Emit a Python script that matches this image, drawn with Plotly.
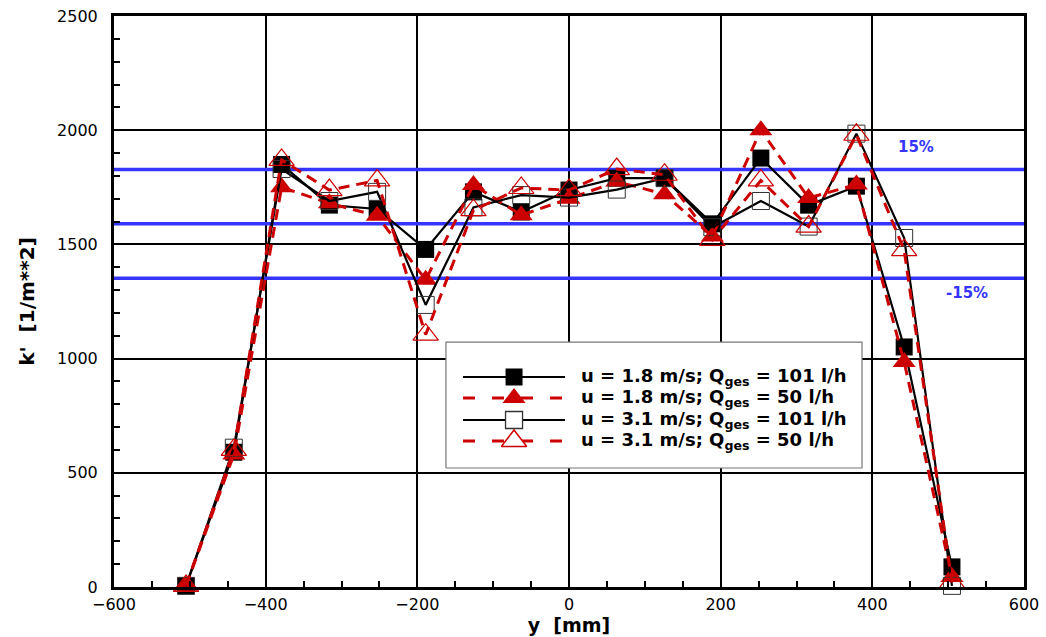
import plotly.graph_objects as go

# ---- data ----
y_mm = [-505, -442, -379, -316, -253, -189, -126, -63, 0, 63, 126, 189, 253, 316, 379, 442, 505]
k_u18_q101 = [5, 590, 1850, 1672, 1655, 1478, 1730, 1642, 1738, 1790, 1790, 1590, 1878, 1672, 1755, 1051, 88]
k_u18_q50 = [5, 580, 1750, 1680, 1625, 1345, 1760, 1628, 1700, 1775, 1720, 1535, 2000, 1703, 1762, 985, 44]
k_u31_q101 = [5, 610, 1830, 1690, 1730, 1235, 1662, 1716, 1705, 1740, 1790, 1575, 1690, 1578, 1985, 1528, 5]
k_u31_q50 = [5, 600, 1870, 1738, 1780, 1105, 1650, 1747, 1738, 1830, 1805, 1520, 1780, 1578, 1980, 1475, 20]

ref_levels = [1828, 1590, 1352]          # +15 %, mean, -15 %
band_labels = ["15%", "-15%"]
band_label_x = [458, 525]
band_label_y = [1928, 1288]

series_names = [
    "u = 1.8 m/s; Q<sub>ges</sub> = 101 l/h",
    "u = 1.8 m/s; Q<sub>ges</sub> = 50 l/h",
    "u = 3.1 m/s; Q<sub>ges</sub> = 101 l/h",
    "u = 3.1 m/s; Q<sub>ges</sub> = 50 l/h",
]
x_ticks = [-600, -400, -200, 0, 200, 400, 600]
y_ticks = [0, 500, 1000, 1500, 2000, 2500]

RED = "#cc0000"
BLUE = "#3535ff"
FONT = "DejaVu Sans"

styles = [
    dict(line=dict(color="black", width=2.2),
         marker=dict(symbol="square", size=17, color="black", line=dict(width=0))),
    dict(line=dict(color=RED, width=3, dash="11px,7px"),
         marker=dict(symbol="triangle-up", size=20, color=RED, line=dict(width=0))),
    dict(line=dict(color="black", width=2.2),
         marker=dict(symbol="square-open", size=17, color="#333333", line=dict(width=1))),
    dict(line=dict(color=RED, width=3, dash="11px,7px"),
         marker=dict(symbol="triangle-up-open", size=22, color=RED, line=dict(width=1.2))),
]
series_values = [k_u18_q101, k_u18_q50, k_u31_q101, k_u31_q50]

fig = go.Figure()

# reference band lines
for lvl in ref_levels:
    fig.add_trace(go.Scatter(x=[x_ticks[0], x_ticks[-1]], y=[lvl, lvl], mode="lines",
                             line=dict(color=BLUE, width=3.5), showlegend=False,
                             hoverinfo="skip"))

for name, vals, st in zip(series_names, series_values, styles):
    fig.add_trace(go.Scatter(x=y_mm, y=vals, mode="lines+markers", name=name,
                             line=st["line"], marker=st["marker"], cliponaxis=False,
                             showlegend=False))

# ---- hand-drawn legend (on an overlay axis in plot-area fractions) ----
bx0, bx1, by0, by1 = 0.3648, 0.822, 0.2084, 0.429
fig.add_trace(go.Scatter(x=[bx0, bx1, bx1, bx0, bx0], y=[by0, by0, by1, by1, by0],
                         mode="lines", fill="toself", fillcolor="white",
                         line=dict(color="#777777", width=1.2), xaxis="x2", yaxis="y2",
                         showlegend=False, hoverinfo="skip"))
row_y = [0.3678, 0.331, 0.2925, 0.2557]
lx0, lx1, lxm, tx = 0.3835, 0.4956, 0.4396, 0.511
legend_dash = [None, "12px,17px", None, "12px,17px"]
for ry, st, dsh, name in zip(row_y, styles, legend_dash, series_names):
    ln = dict(st["line"])
    if dsh:
        ln["dash"] = dsh
    fig.add_trace(go.Scatter(x=[lx0, lx1], y=[ry, ry], mode="lines", line=ln,
                             xaxis="x2", yaxis="y2", showlegend=False, hoverinfo="skip"))
    mk = dict(st["marker"])
    if "open" in mk["symbol"]:
        mk = dict(mk)
        mk["symbol"] = mk["symbol"].replace("-open", "")
        mk["color"] = "white"
        mk["line"] = dict(color=st["marker"]["color"], width=st["marker"]["line"]["width"] + 0.3)
    fig.add_trace(go.Scatter(x=[lxm], y=[ry], mode="markers", marker=mk,
                             xaxis="x2", yaxis="y2", showlegend=False, hoverinfo="skip"))
    fig.add_annotation(x=tx, y=ry, xref="paper", yref="paper", text="<b>" + name + "</b>",
                       showarrow=False, xanchor="left", yanchor="middle",
                       font=dict(family=FONT, size=18, color="black"))

for lab, lx, ly in zip(band_labels, band_label_x, band_label_y):
    fig.add_annotation(x=lx, y=ly, xref="x", yref="y", text="<b>" + lab + "</b>",
                       showarrow=False,
                       font=dict(family=FONT, size=15, color=BLUE))

axis_common = dict(
    ticks="inside", ticklen=10, tickwidth=2, tickcolor="black",
    showgrid=True, gridcolor="black", gridwidth=2,
    showline=True, linecolor="black", linewidth=3, mirror=True, zeroline=False,
    tickfont=dict(family=FONT, size=16, color="black"),
    automargin=False,
)

fig.update_layout(
    width=1046, height=637,
    margin=dict(l=114, r=22, t=16, b=50),
    paper_bgcolor="white", plot_bgcolor="white",
    showlegend=False,
    xaxis=dict(range=[x_ticks[0], x_ticks[-1]], tickmode="array", tickvals=x_ticks,
               minor=dict(tick0=-600, dtick=50, ticks="inside", ticklen=6,
                          tickwidth=1.5, tickcolor="black", showgrid=False),
               ticklabelstandoff=1,
               title=dict(text="<b>y  [mm]</b>", standoff=1,
                          font=dict(family=FONT, size=19, color="black")),
               **axis_common),
    yaxis=dict(range=[y_ticks[0], y_ticks[-1]], tickmode="array", tickvals=y_ticks,
               minor=dict(tick0=0, dtick=100, ticks="inside", ticklen=6,
                          tickwidth=1.5, tickcolor="black", showgrid=False),
               ticklabelstandoff=10,
               title=dict(text="<b>k'  [1/m**2]</b>", standoff=18,
                          font=dict(family=FONT, size=20, color="black")),
               **axis_common),
    xaxis2=dict(overlaying="x", range=[0, 1], visible=False, anchor="y2"),
    yaxis2=dict(overlaying="y", range=[0, 1], visible=False, anchor="x2"),
)

fig.write_html("out.html")
